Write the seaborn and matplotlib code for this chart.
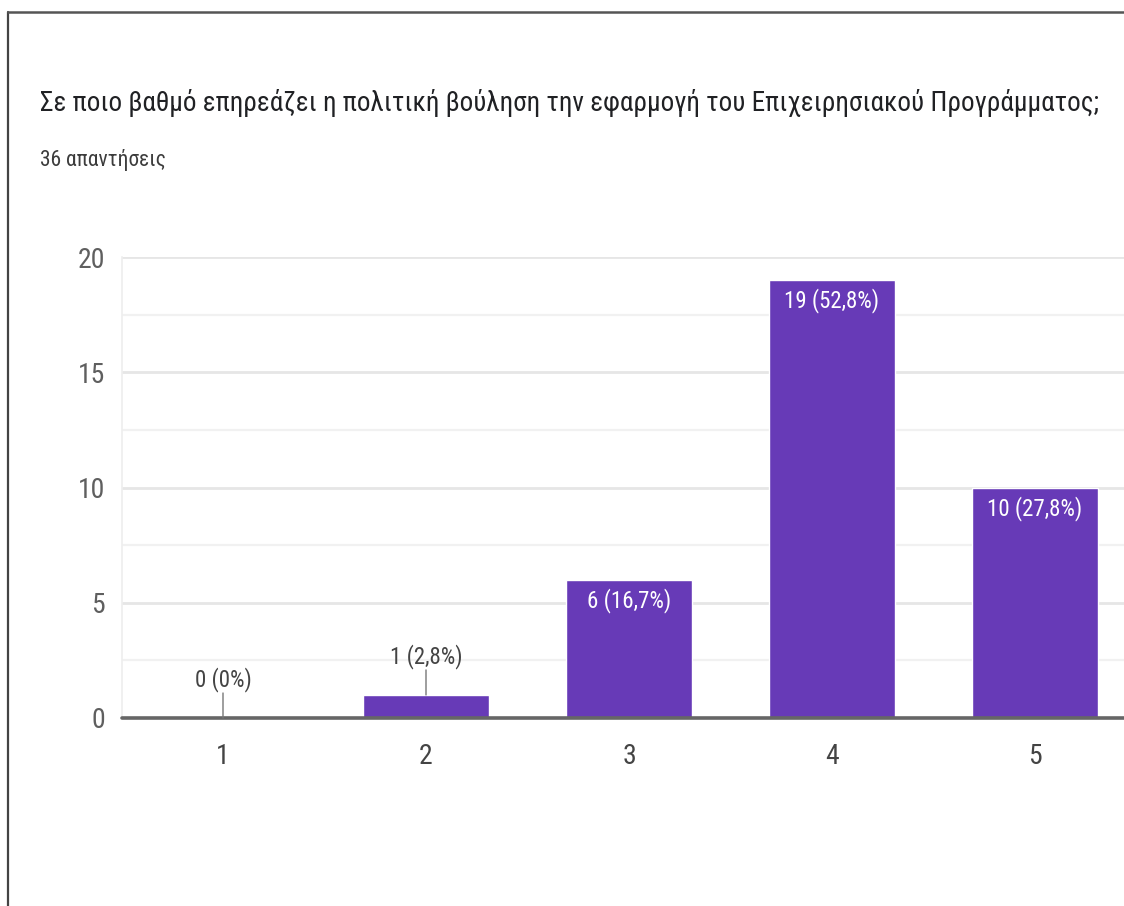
import matplotlib
matplotlib.use("Agg")
import matplotlib.pyplot as plt
from matplotlib import font_manager as fm
from matplotlib.lines import Line2D
from matplotlib.ticker import MultipleLocator
import seaborn as sns
import pandas as pd

# Survey answers on a 1-5 scale
categories = ["1", "2", "3", "4", "5"]
counts = [0, 1, 6, 19, 10]
labels = ["0 (0%)", "1 (2,8%)", "6 (16,7%)", "19 (52,8%)", "10 (27,8%)"]
y_ticks = [0, 5, 10, 15, 20]

title = "Σε ποιο βαθμό επηρεάζει η πολιτική βούληση την εφαρμογή του Επιχειρησιακού Προγράμματος;"
subtitle = "36 απαντήσεις"

sns.set_theme(style="white")
plt.rcParams["font.family"] = ["Roboto", "DejaVu Sans"]


def pick_narrow_font():
    """Return the file of a condensed sans face if one is installed."""
    prefs = ["roboto condensed", "liberation sans narrow", "open sans condensed",
             "noto sans condensed", "dejavu sans condensed"]
    found = {}
    for f in fm.fontManager.ttflist:
        nm = f.name.lower()
        fname = f.fname.lower()
        if f.style != "normal" or f.weight not in (400, "normal", "regular"):
            continue
        if "bold" in fname or "italic" in fname or "oblique" in fname:
            continue
        for p in prefs:
            key = p.replace(" ", "")
            if nm == p or key in fname.replace("-", "").replace("_", ""):
                found.setdefault(p, f.fname)
    for p in prefs:
        if p in found:
            return found[p]
    return None


narrow = pick_narrow_font()
if narrow:
    def fp(size):
        return fm.FontProperties(fname=narrow, size=size)
else:
    def fp(size):
        return fm.FontProperties(family=["Roboto", "DejaVu Sans"], size=size)

W, H = 1124, 906
fig = plt.figure(figsize=(W / 100, H / 100), dpi=100)
fig.patch.set_facecolor("white")

# plot area in pixel geometry (right part runs past the figure edge)
left_px, right_px = 121.5, 1136.5
top_px, bottom_px = 257, 718
ax = fig.add_axes([left_px / W, (H - bottom_px) / H,
                   (right_px - left_px) / W, (bottom_px - top_px) / H])

df = pd.DataFrame({"answer": categories, "count": counts})
purple = "#673ab7"
sns.barplot(data=df, x="answer", y="count", color=purple, saturation=1,
            width=0.62, ax=ax, zorder=3)

ax.set_xlim(-0.5, 4.5)
ax.set_ylim(0, 20)
ax.set_xlabel("")
ax.set_ylabel("")

# grid: major every 5, faint minor every 2.5
ax.yaxis.set_major_locator(MultipleLocator(5))
ax.yaxis.set_minor_locator(MultipleLocator(2.5))
ax.set_yticks(y_ticks)
ax.grid(axis="y", which="major", color="#e6e6e6", lw=2, zorder=0)
ax.grid(axis="y", which="minor", color="#f1f1f1", lw=1.6, zorder=0)
ax.grid(axis="x", visible=False)
ax.set_axisbelow(True)
ax.axhline(0, color="#666666", lw=2.6, zorder=4, clip_on=False)

for s in ["top", "right", "bottom"]:
    ax.spines[s].set_visible(False)
ax.spines["left"].set_color("#eeeeee")
ax.spines["left"].set_linewidth(1.2)

ax.tick_params(axis="y", which="both", length=0, pad=12, labelcolor="#5f5f5f")
ax.tick_params(axis="x", length=0, pad=18, labelcolor="#444444")
for t in ax.get_yticklabels() + ax.get_xticklabels():
    t.set_fontproperties(fp(20))

lab_size = 16.5 if narrow else 14
# value labels: inside tall bars, above short bars with a leader line
for i, (v, lab) in enumerate(zip(counts, labels)):
    if v >= 5:
        ax.annotate(lab, (i, v), xytext=(0, -15), textcoords="offset points",
                    ha="center", va="center", color="white",
                    fontproperties=fp(lab_size), zorder=5)
    else:
        ax.annotate(lab, (i, v), xytext=(0, 28), textcoords="offset points",
                    ha="center", va="center", color="#444444",
                    fontproperties=fp(lab_size), zorder=5)
        ax.annotate("", (i, v), xytext=(0, 18), textcoords="offset points",
                    arrowprops=dict(arrowstyle="-", color="#777777", lw=1,
                                    shrinkA=0, shrinkB=0), zorder=5)

t_title = fig.text(40 / W, 1 - 103 / H, title, ha="left", va="center",
                   fontproperties=fp(27), color="#202124")
t_sub = fig.text(40 / W, 1 - 160 / H, subtitle, ha="left", va="center",
                 fontproperties=fp(15.5 if narrow else 13), color="#3c3c3c")

# shrink the title until it fits between the left margin and the right edge
renderer = fig.canvas.get_renderer()
size = t_title.get_fontproperties().get_size_in_points()
while t_title.get_window_extent(renderer).width > 1063 and size > 8:
    size -= 0.25
    t_title.set_fontproperties(fp(size))

# frame lines on the left and top edges
fig.add_artist(Line2D([8 / W, 8 / W], [0, 1 - 12 / H], transform=fig.transFigure,
                      color="#444444", lw=1.6))
fig.add_artist(Line2D([8 / W, 1], [1 - 12 / H, 1 - 12 / H], transform=fig.transFigure,
                      color="#555555", lw=1.8))

fig.savefig("out.png", dpi=100)
